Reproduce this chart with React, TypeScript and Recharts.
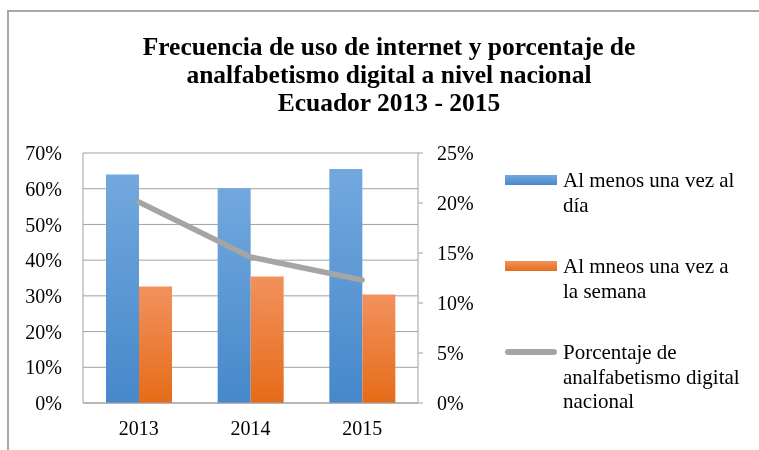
import React from 'react';
import { ComposedChart, Bar, Line, XAxis, YAxis, CartesianGrid, Legend } from 'recharts';

const years = ['2013', '2014', '2015'];
const dailyUse = [0.64, 0.601, 0.655];
const weeklyUse = [0.326, 0.354, 0.304];
const digitalIlliteracy = [0.201, 0.146, 0.123];
const leftTicks = [0, 0.1, 0.2, 0.3, 0.4, 0.5, 0.6, 0.7];
const rightTicks = [0, 0.05, 0.1, 0.15, 0.2, 0.25];
const seriesNames = [
  'Al menos una vez al día',
  'Al mneos una vez a la semana',
  'Porcentaje de analfabetismo digital nacional',
];
const legendLines = [
  ['Al menos una vez al', 'día'],
  ['Al mneos una vez a', 'la semana'],
  ['Porcentaje de', 'analfabetismo digital', 'nacional'],
];
const titleLines = [
  'Frecuencia de uso de internet y porcentaje de',
  'analfabetismo digital a nivel nacional',
  'Ecuador 2013 - 2015',
];

const data = years.map((y, i) => ({
  year: y,
  daily: dailyUse[i],
  weekly: weeklyUse[i],
  illiteracy: digitalIlliteracy[i],
}));

const FONT = '"Liberation Serif", "Times New Roman", serif';
const pct = (v: number) => `${Math.round(v * 100)}%`;
const tickStyle = { fill: '#000', fontSize: 20, fontFamily: FONT };

const swatches = [
  { kind: 'rect', bg: 'linear-gradient(to bottom, #72A8DE, #4889CB)' },
  { kind: 'rect', bg: 'linear-gradient(to bottom, #F2915E, #E56C18)' },
  { kind: 'line', bg: '#A5A5A5' },
];
const itemTops = [160, 246, 332];

const renderLegend = (props: any) => {
  const payload = props.payload || [];
  return (
    <div style={{ position: 'relative', width: 250, height: 280, fontFamily: FONT, fontSize: 21, color: '#000' }}>
      {payload.map((entry: any, i: number) => (
        <div key={i} style={{ position: 'absolute', left: 0, top: itemTops[i] - 145 }}>
          {swatches[i].kind === 'rect' ? (
            <div style={{ position: 'absolute', left: 0, top: 7, width: 52, height: 10, background: swatches[i].bg }} />
          ) : (
            <div style={{ position: 'absolute', left: 0, top: 9, width: 52, height: 6, borderRadius: 3, background: swatches[i].bg }} />
          )}
          <div style={{ position: 'absolute', left: 58, top: 0, lineHeight: '24.5px', whiteSpace: 'nowrap' }}>
            {legendLines[i].map((l, k) => (
              <div key={k}>{l}</div>
            ))}
          </div>
        </div>
      ))}
    </div>
  );
};

export default function App() {
  return (
    <div style={{ position: 'relative', width: 750, height: 434, background: '#fff' }}>
      <div
        style={{
          position: 'fixed',
          left: 7,
          top: 10,
          width: 900,
          height: 600,
          borderLeft: '2px solid #A8A8A8',
          borderTop: '2px solid #A8A8A8',
          pointerEvents: 'none',
        }}
      />
      <div
        style={{
          position: 'absolute',
          left: 81,
          top: 25,
          width: 600,
          textAlign: 'center',
          fontFamily: FONT,
          fontWeight: 'bold',
          fontSize: 25.5,
          lineHeight: '28px',
          color: '#000',
        }}
      >
        {titleLines.map((t, i) => (
          <div key={i}>{t}</div>
        ))}
      </div>
      <ComposedChart
        width={750}
        height={434}
        data={data}
        margin={{ top: 145, right: 280, bottom: 9, left: 0 }}
        barGap={0}
      >
        <defs>
          <linearGradient id="gBlue" x1="0" y1="0" x2="0" y2="1">
            <stop offset="0%" stopColor="#72A8DE" />
            <stop offset="100%" stopColor="#4688CA" />
          </linearGradient>
          <linearGradient id="gOrange" x1="0" y1="0" x2="0" y2="1">
            <stop offset="0%" stopColor="#F2915E" />
            <stop offset="100%" stopColor="#E56C18" />
          </linearGradient>
        </defs>
        <CartesianGrid vertical={false} stroke="#A0A0A0" yAxisId="left" />
        <XAxis
          dataKey="year"
          height={30}
          tickLine={false}
          tickSize={0}
          tickMargin={18}
          axisLine={{ stroke: '#A0A0A0' }}
          tick={tickStyle}
        />
        <YAxis
          yAxisId="left"
          orientation="left"
          width={75}
          domain={[0, 0.7]}
          ticks={leftTicks}
          tickFormatter={pct}
          tickLine={false}
          tickSize={0}
          tickMargin={21}
          axisLine={{ stroke: '#A0A0A0' }}
          tick={tickStyle}
          allowDataOverflow
        />
        <YAxis
          yAxisId="right"
          orientation="right"
          width={60}
          domain={[0, 0.25]}
          ticks={rightTicks}
          tickFormatter={pct}
          tickSize={5}
          tickMargin={14}
          tickLine={{ stroke: '#A0A0A0' }}
          axisLine={{ stroke: '#A0A0A0' }}
          tick={tickStyle}
          allowDataOverflow
        />
        <Bar yAxisId="left" dataKey="daily" name={seriesNames[0]} fill="url(#gBlue)" barSize={33} isAnimationActive={false} />
        <Bar yAxisId="left" dataKey="weekly" name={seriesNames[1]} fill="url(#gOrange)" barSize={33} isAnimationActive={false} />
        <Line
          yAxisId="right"
          dataKey="illiteracy"
          name={seriesNames[2]}
          stroke="#A5A5A5"
          strokeWidth={5.5}
          strokeLinecap="round"
          strokeLinejoin="round"
          dot={false}
          activeDot={false}
          isAnimationActive={false}
        />
        <Legend
          layout="vertical"
          align="center"
          verticalAlign="middle"
          content={renderLegend}
          wrapperStyle={{ position: 'absolute', left: 497, top: 145, width: 250, height: 280 }}
        />
      </ComposedChart>
    </div>
  );
}
